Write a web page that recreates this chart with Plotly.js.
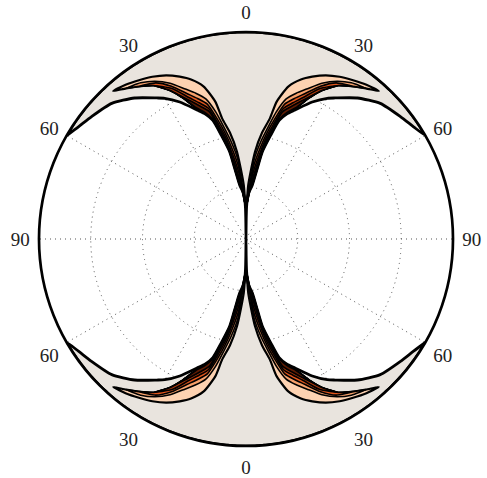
<!DOCTYPE html>
<html>
<head>
<meta charset="utf-8">
<script src="https://cdn.plot.ly/plotly-3.0.1.min.js"></script>
<style>html,body{margin:0;padding:0;background:#fff;}#chart{width:487px;height:478px;}</style>
</head>
<body>
<div id="chart"></div>
<script>
// Angular tick positions (deg, clockwise from top) and their labels
const tickAngles = [0, 30, 60, 90, 120, 150, 180, 210, 240, 270, 300, 330];
const tickLabels = ['0', '30', '60', '90', '60', '30', '0', '30', '60', '90', '60', '30'];
const ringValues = [0.25, 0.5, 0.75];

// White lobe boundary (one quadrant, angle from vertical)
const lobeTheta = [0, 0.6, 1, 2, 4, 6.7, 9.1, 10.6, 13.4, 15.6, 18, 20.8, 25.8, 30, 32.3, 38.3, 44.7, 51.6, 56.2, 60];
const lobeR     = [0, 0.08, 0.15, 0.2, 0.23, 0.263, 0.346, 0.429, 0.516, 0.595, 0.635, 0.667, 0.735, 0.785, 0.806, 0.868, 0.922, 0.952, 0.974, 1.0];

// Horn: outer (upper) edge and inner (lower) edge
const hornUpperTheta = [1.5, 2.4, 5.9, 8.6, 11.2, 12.6, 15.5, 19, 22.2, 26, 30, 34, 38, 41.9];
const hornUpperR     = [0.17, 0.261, 0.424, 0.52, 0.594, 0.68, 0.764, 0.815, 0.847, 0.88, 0.905, 0.925, 0.945, 0.96];
const hornLowerTheta = [1.5, 4, 6.7, 9.1, 10.6, 13.4, 15.6, 18, 20.8, 24, 27, 31, 35, 38.5, 41.9];
const hornLowerR     = [0.17, 0.235, 0.268, 0.352, 0.435, 0.522, 0.602, 0.643, 0.678, 0.745, 0.805, 0.865, 0.9, 0.93, 0.96];

// Inner contour bands (upper edges)
const band2Theta = [1.5, 5.9, 8.6, 11.2, 13.4, 16, 19, 22, 26, 30, 34, 38.5];
const band2R     = [0.17, 0.388, 0.474, 0.552, 0.631, 0.704, 0.745, 0.781, 0.837, 0.88, 0.91, 0.93];
const band3Theta = [1.5, 5.9, 8.6, 11.2, 13.4, 16, 19, 22, 26, 30, 35];
const band3R     = [0.17, 0.352, 0.436, 0.524, 0.594, 0.678, 0.718, 0.757, 0.821, 0.871, 0.9];
const band4Theta = [1.5, 5.9, 8.6, 11.2, 13.4, 16, 19, 22, 26, 31];
const band4R     = [0.17, 0.317, 0.399, 0.496, 0.567, 0.657, 0.696, 0.737, 0.808, 0.865];
const band5Theta = [1.5, 5.9, 8.6, 11.2, 13.4, 16, 19, 22, 26];
const band5R     = [0.17, 0.281, 0.366, 0.475, 0.544, 0.639, 0.678, 0.72, 0.785];

const bandColors = ['#fdd2b1', '#f7a06a', '#e0551c', '#a8360a', '#5e1c04'];
const bgGray = '#e9e4de';

// quadrant mappings
const quads = [t => t, t => -t, t => 180 - t, t => 180 + t];

const traces = [];

// Gray regions (top and bottom): outer arc + lobe boundaries
function grayRegion(center) {
  const th = [], rr = [];
  for (let a = 60; a >= -60; a--) { th.push(center + a); rr.push(1); }
  for (let i = lobeTheta.length - 1; i >= 0; i--) { th.push(center - lobeTheta[i]); rr.push(lobeR[i]); }
  for (let i = 1; i < lobeTheta.length; i++) { th.push(center + lobeTheta[i]); rr.push(lobeR[i]); }
  return [th, rr];
}
[0, 180].forEach(c => {
  const [th, rr] = grayRegion(c);
  traces.push({
    type: 'scatterpolar', mode: 'lines', fill: 'toself',
    theta: th, r: rr,
    fillcolor: bgGray, line: {color: '#000', width: 2.8, shape: 'spline', smoothing: 0.6},
    hoverinfo: 'skip', showlegend: false
  });
});

// Horn bands
const bandUppers = [
  [hornUpperTheta, hornUpperR],
  [band2Theta, band2R],
  [band3Theta, band3R],
  [band4Theta, band4R],
  [band5Theta, band5R]
];
quads.forEach(f => {
  bandUppers.forEach((b, k) => {
    const [ut, ur] = b;
    const tip = ut[ut.length - 1];
    const th = [], rr = [];
    for (let i = 0; i < ut.length; i++) { th.push(f(ut[i])); rr.push(ur[i]); }
    for (let i = hornLowerTheta.length - 1; i >= 0; i--) {
      if (hornLowerTheta[i] < tip) { th.push(f(hornLowerTheta[i])); rr.push(hornLowerR[i]); }
    }
    traces.push({
      type: 'scatterpolar', mode: 'lines', fill: 'toself',
      theta: th, r: rr,
      fillcolor: bandColors[k],
      line: {color: '#000', width: k === 0 ? 2.2 : 1.6, shape: 'spline', smoothing: 0.6},
      hoverinfo: 'skip', showlegend: false
    });
  });
});

const layout = {
  width: 487, height: 478,
  margin: {l: 39, r: 34, t: 32, b: 32},
  paper_bgcolor: '#fff',
  showlegend: false,
  polar: {
    bgcolor: '#fff',
    domain: {x: [0, 1], y: [0, 1]},
    angularaxis: {
      rotation: 90, direction: 'clockwise',
      tickmode: 'array', tickvals: tickAngles, ticktext: tickLabels,
      ticks: 'outside', ticklen: 4, tickcolor: 'rgba(0,0,0,0)',
      showline: true, linecolor: '#000', linewidth: 2.7,
      showgrid: true, gridcolor: '#555', gridwidth: 1, griddash: '1px,4px',
      tickfont: {family: 'Liberation Serif, DejaVu Serif, serif', size: 19, color: '#222'}
    },
    radialaxis: {
      range: [0, 1], tickmode: 'array', tickvals: ringValues,
      showticklabels: false, ticks: '', showline: false,
      showgrid: true, gridcolor: '#555', gridwidth: 1, griddash: '1px,4px'
    }
  }
};

Plotly.newPlot('chart', traces, layout, {staticPlot: true, displayModeBar: false});
</script>
</body>
</html>
